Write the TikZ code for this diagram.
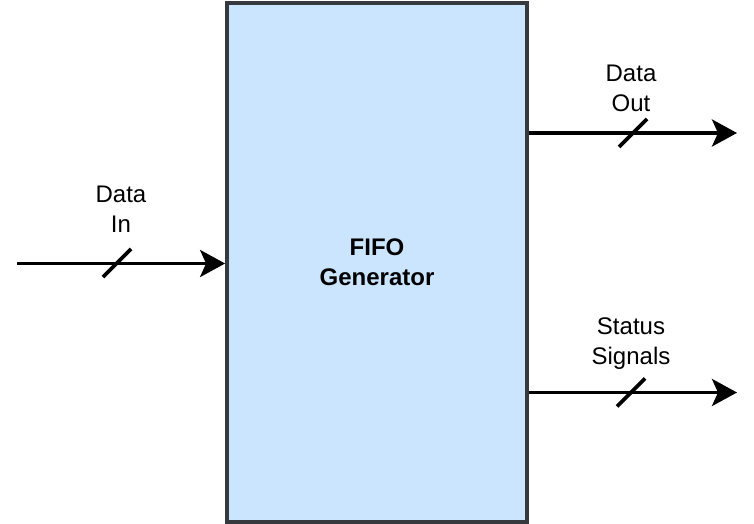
\documentclass[tikz,border=0pt]{standalone}
\usepackage{fontspec}
\setmainfont{Liberation Sans}
\usetikzlibrary{arrows.meta}
\definecolor{boxblue}{HTML}{CCE5FF}
\definecolor{boxgray}{HTML}{36393D}
\newcommand{\lblfont}{\fontsize{24}{30}\selectfont}
\begin{document}
\begin{tikzpicture}[x=1pt, y=-1pt, line width=3.8pt,
    every node/.style={font=\lblfont, align=center},
    fifo/.style={draw=boxgray, fill=boxblue, line width=3.8pt, minimum width=300pt, minimum height=519pt, font=\lblfont\bfseries},
    sig/.style={-{Stealth[length=25pt, width=27pt, inset=6pt]}},
    tick/.style={line width=3.8pt}]
    \useasboundingbox (0,0) rectangle (754,524);
    % The block
    \node[fifo] (fifo) at (377,262.5) {FIFO\\Generator};
    % Input side
    \coordinate (instart) at (17,263.5);
    \draw[sig] (instart) -- (fifo.west |- instart);
    \draw[tick] (117,263) ++(-14,14) -- ++(28,-28);
    \node (inlbl) at (121,209.5) {Data\\In};
    % Output side
    \coordinate (outend) at (737,133);
    \coordinate (statend) at (737,392.5);
    \draw[sig] (fifo.east |- outend) -- (outend);
    \draw[sig] (fifo.east |- statend) -- (statend);
    \draw[tick] (633,133) ++(-14,14) -- ++(28,-28);
    \draw[tick] (631,392.5) ++(-14,14) -- ++(28,-28);
    \node (outlbl) at (631,88.5) {Data\\Out};
    \node (statlbl) at (631,344) {Status\\Signals};
\end{tikzpicture}
\end{document}
